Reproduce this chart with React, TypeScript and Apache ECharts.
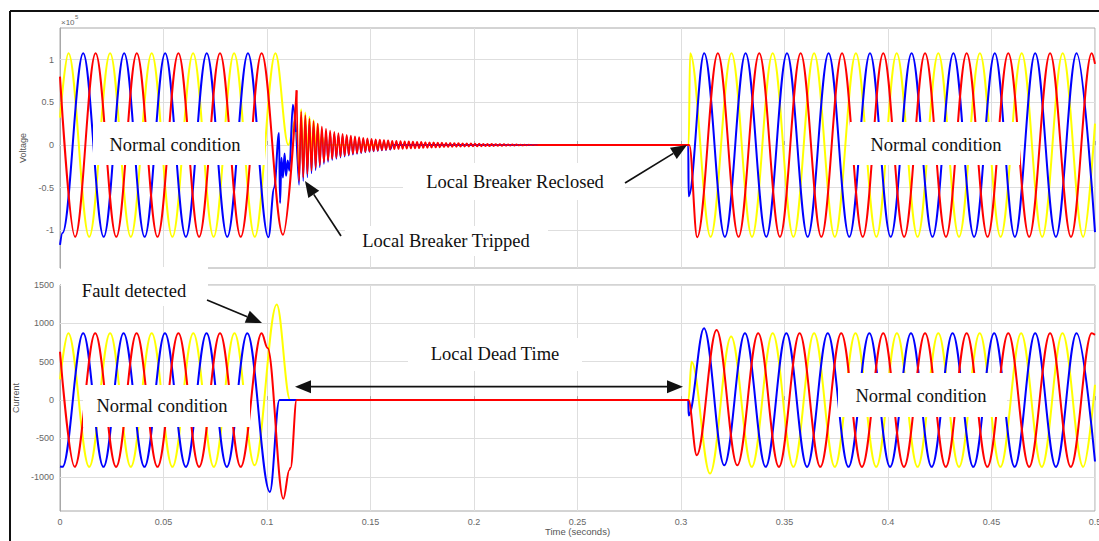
import React, { useEffect, useRef } from "react";
import * as echarts from "echarts";

type P = [number, number];

// Tick values
const voltTicks = [-1, -0.5, 0, 0.5, 1];
const currTicks = [-1000, -500, 0, 500, 1000, 1500];

// ---------- Voltage (x10^5) ----------
const voltYellow: P[] = [
  [0, 0.32], [0.0041, 1.075], [0.0141, -1.075], [0.0242, 1.075], [0.0342, -1.075], [0.0443, 1.075],
  [0.0543, -1.075], [0.0643, 1.075], [0.0742, -1.075], [0.0841, 1.075], [0.0941, -1.075], [0.1041, 1.075],
  [0.1103, 0], [0.1135, 0.28], [0.1155, -0.3], [0.1165, 0.42], [0.1175, -0.3], [0.1185, 0.38], [0.1195, -0.25],
  [0.1205, 0.33], [0.1215, -0.2], [0.1225, 0.29], [0.1235, -0.1], [0.1245, 0.25], [0.1255, -0.05],
  [0.1265, 0.1], [0.128, 0], [0.3037, 0],
  [0.3044, 1.075], [0.3143, -1.075], [0.3244, 1.075], [0.3343, -1.075], [0.3443, 1.075], [0.3543, -1.075],
  [0.3643, 1.075], [0.3743, -1.075], [0.3845, 1.075], [0.3944, -1.075], [0.4042, 1.075], [0.4143, -1.075],
  [0.4243, 1.075], [0.4343, -1.075], [0.4444, 1.075], [0.4544, -1.075], [0.4646, 1.075], [0.4745, -1.075],
  [0.4844, 1.075], [0.4943, -1.075], [0.5, 0.25],
];

const voltBluePre: P[] = [
  [0, -1.17], [0.0012, -1.03], [0.0112, 1.075], [0.0211, -1.075], [0.031, 1.075], [0.0409, -1.075],
  [0.0508, 1.075], [0.0608, -1.075], [0.0709, 1.075], [0.0808, -1.075], [0.0908, 1.075], [0.1007, -1.08],
  [0.1035, -0.5], [0.1058, 0.14], [0.1063, -0.68], [0.107, -0.15], [0.1077, -0.38], [0.1085, -0.1],
  [0.1092, -0.36], [0.11, -0.18], [0.1108, -0.3], [0.1125, 0.47], [0.114, 0.15],
];
const voltBlueRing: P[] = [
  [0.114, 0.15],
  [0.1155, -0.47], [0.1165, 0.33], [0.1175, -0.425], [0.1185, 0.3], [0.1195, -0.38], [0.1205, 0.265],
  [0.1215, -0.335], [0.1225, 0.24], [0.1235, -0.297], [0.1245, 0.21], [0.1255, -0.263], [0.1265, 0.183],
  [0.1275, -0.224], [0.1285, 0.16], [0.1295, -0.2], [0.1305, 0.145], [0.1315, -0.18], [0.1325, 0.13],
  [0.1335, -0.165], [0.1345, 0.12], [0.1355, -0.15], [0.1365, 0.11], [0.1375, -0.139], [0.1385, 0.1],
  [0.1395, -0.127], [0.1405, 0.094], [0.1415, -0.117], [0.1425, 0.085], [0.1435, -0.107], [0.1445, 0.078],
  [0.1455, -0.098], [0.1465, 0.072], [0.1475, -0.09], [0.1485, 0.066], [0.1495, -0.084], [0.1505, 0.061],
  [0.1515, -0.078], [0.1525, 0.057], [0.1535, -0.072], [0.1545, 0.053], [0.1555, -0.067], [0.1565, 0.049],
  [0.1575, -0.062], [0.1585, 0.046], [0.1595, -0.058], [0.1605, 0],
];
const voltBluePost: P[] = [
  [0.1605, 0], [0.3035, 0], [0.3037, -0.6], [0.3112, 1.075], [0.3212, -1.075], [0.3312, 1.075], [0.3412, -1.075],
  [0.3512, 1.075], [0.3612, -1.075], [0.3713, 1.075], [0.3813, -1.075], [0.3913, 1.075], [0.4013, -1.075],
  [0.4114, 1.075], [0.4215, -1.075], [0.4316, 1.075], [0.4416, -1.075], [0.4516, 1.075], [0.4613, -1.075],
  [0.4711, 1.075], [0.4811, -1.075], [0.4911, 1.075], [0.5, -1.02],
];

const voltRedPre: P[] = [
  [0, 0.8], [0.0073, -1.075], [0.0172, 1.075], [0.0272, -1.075], [0.0371, 1.075], [0.0471, -1.075],
  [0.0572, 1.075], [0.0672, -1.075], [0.0773, 1.075], [0.0873, -1.075], [0.0974, 1.075], [0.1077, -1.05],
  [0.1143, 0.64],
];
const voltRedRing: P[] = [
  [0.1143, 0.64],
  [0.1155, -0.42], [0.1165, 0.39], [0.1175, -0.38], [0.1185, 0.35], [0.1195, -0.34], [0.1205, 0.31],
  [0.1215, -0.3], [0.1225, 0.28], [0.1235, -0.265], [0.1245, 0.25], [0.1255, -0.235], [0.1265, 0.215],
  [0.1275, -0.2], [0.1285, 0.19], [0.1295, -0.18], [0.1305, 0.17], [0.1315, -0.162], [0.1325, 0.155],
  [0.1335, -0.148], [0.1345, 0.14], [0.1355, -0.135], [0.1365, 0.13], [0.1375, -0.124], [0.1385, 0.12],
  [0.1395, -0.114], [0.1405, 0.11], [0.1415, -0.105], [0.1425, 0.1], [0.1435, -0.096], [0.1445, 0.092],
  [0.1455, -0.088], [0.1465, 0.085], [0.1475, -0.081], [0.1485, 0.078], [0.1495, -0.075], [0.1505, 0.072],
  [0.1515, -0.07], [0.1525, 0.067], [0.1535, -0.065], [0.1545, 0.062], [0.1555, -0.06], [0.1565, 0.058],
  [0.1575, -0.056], [0.1585, 0.054], [0.1595, -0.052], [0.1605, 0.05], [0.1615, -0.049], [0.1625, 0.048],
  [0.1635, -0.047], [0.1645, 0.046], [0.1655, -0.045], [0.1665, 0.044], [0.1675, -0.043], [0.1685, 0.042],
  [0.1695, -0.041], [0.1705, 0.04], [0.1715, -0.039], [0.1725, 0.038], [0.1735, -0.037], [0.1745, 0.036],
  [0.1755, -0.035], [0.1765, 0.034], [0.1775, -0.033], [0.1785, 0.032], [0.1795, -0.031], [0.1805, 0.03],
  [0.1815, -0.029], [0.1825, 0.029], [0.1835, -0.028], [0.1845, 0.027], [0.1855, -0.026], [0.1865, 0.026],
  [0.1875, -0.025], [0.1885, 0.024], [0.1895, -0.023], [0.1905, 0.022], [0.1915, -0.021], [0.1925, 0.021],
  [0.1935, -0.02], [0.1945, 0.02], [0.1955, -0.019], [0.1965, 0.019], [0.1975, -0.018], [0.1985, 0.018],
  [0.1995, -0.017], [0.2005, 0.017], [0.2015, -0.016], [0.2025, 0.016], [0.2035, -0.015], [0.2045, 0.015],
  [0.2055, -0.014], [0.2065, 0.014], [0.2075, -0.013], [0.2085, 0.013], [0.2095, -0.012], [0.2105, 0.012],
  [0.2115, -0.011], [0.2125, 0.011], [0.2135, -0.01], [0.2145, 0.01], [0.2155, -0.009], [0.2165, 0.009],
  [0.2175, -0.008], [0.2185, 0.008], [0.2195, -0.007], [0.2205, 0.007], [0.2215, -0.006], [0.2225, 0.006],
  [0.2235, -0.005], [0.2245, 0.005], [0.2255, -0.004], [0.2265, 0.004], [0.2275, -0.003], [0.2285, 0.003],
  [0.2295, -0.002], [0.2305, 0],
];
const voltRedPost: P[] = [
  [0.2305, 0], [0.304, 0], [0.3078, -1.08], [0.3178, 1.075], [0.3278, -1.075], [0.3378, 1.075], [0.3478, -1.075],
  [0.3578, 1.075], [0.3678, -1.075], [0.3778, 1.075], [0.3878, -1.075], [0.3977, 1.075], [0.4078, -1.075],
  [0.4179, 1.075], [0.428, -1.075], [0.438, 1.075], [0.4481, -1.075], [0.4581, 1.075], [0.4682, -1.075],
  [0.4783, 1.075], [0.4884, -1.075], [0.4984, 1.075], [0.5, 0.95],
];

// ---------- Current (A) ----------
const currYellow: P[] = [
  [0, 270], [0.004, 870], [0.0141, -870], [0.0242, 870], [0.0342, -870], [0.0443, 870], [0.0543, -870],
  [0.0644, 870], [0.0743, -870], [0.0843, 870], [0.094, -850], [0.1047, 1245], [0.1112, 0], [0.3036, 0],
  [0.3051, 500], [0.314, -957], [0.3242, 830], [0.3342, -870], [0.3443, 870], [0.3543, -870], [0.3643, 870],
  [0.3743, -870], [0.3843, 870], [0.3943, -870], [0.4043, 870], [0.4143, -870], [0.4243, 870], [0.4343, -870],
  [0.4443, 870], [0.4543, -870], [0.4643, 870], [0.4743, -870], [0.4843, 870], [0.4943, -870], [0.5, 200],
];
const currBlue: P[] = [
  [0, -866], [0.0012, -870], [0.0112, 870], [0.021, -870], [0.0307, 870], [0.0408, -870], [0.0507, 870],
  [0.0608, -870], [0.0708, 870], [0.0806, -870], [0.0905, 870], [0.1014, -1197], [0.106, 0], [0.3035, 0],
  [0.3037, -200], [0.3111, 936], [0.3209, -850], [0.3309, 870], [0.3409, -870], [0.3509, 870], [0.3609, -870],
  [0.3709, 870], [0.3809, -870], [0.391, 870], [0.401, -870], [0.4111, 870], [0.4211, -870], [0.4312, 870],
  [0.4412, -870], [0.4513, 870], [0.4612, -870], [0.4711, 870], [0.4811, -870], [0.4911, 870], [0.5, -800],
];
const currRed: P[] = [
  [0, 630], [0.0071, -870], [0.017, 870], [0.0271, -870], [0.037, 870], [0.0471, -870], [0.0572, 870],
  [0.0672, -870], [0.0773, 870], [0.0873, -870], [0.0974, 870], [0.1003, 680], [0.1079, -1285],
  [0.1108, -910], [0.1114, -880], [0.1143, 0], [0.3036, 0], [0.3076, -718], [0.3172, 914], [0.3272, -850],
  [0.3373, 870], [0.3473, -870], [0.3573, 870], [0.3673, -870], [0.3774, 870], [0.3874, -870], [0.3977, 870],
  [0.4077, -870], [0.4179, 870], [0.4279, -870], [0.438, 870], [0.448, -870], [0.4581, 870], [0.4682, -870],
  [0.4783, 870], [0.4883, -870], [0.4984, 870], [0.5, 850],
];

const YEL = "#ffff00";
const BLU = "#0000ff";
const RED = "#ff0000";
const AXC = "#a8a8a8";
const GRC = "#dedede";
const LBL = "#666666";
const SANS = "Liberation Sans";
const SERIF = "Liberation Serif";

function wave(data: P[], color: string, gi: number, extra: any = {}, width = 2) {
  return {
    type: "line",
    data,
    xAxisIndex: gi,
    yAxisIndex: gi,
    showSymbol: false,
    symbol: "none",
    smooth: 0.36,
    smoothMonotone: "x",
    lineStyle: { color, width },
    itemStyle: { color },
    silent: true,
    animation: false,
    z: 2,
    ...extra,
  };
}

function gridLines(ticks: number[]) {
  return {
    silent: true,
    z: 1,
    animation: false,
    symbol: ["none", "none"],
    label: { show: false },
    emphasis: { disabled: true },
    lineStyle: { color: GRC, width: 1, type: "solid" },
    data: ticks.map((v) => ({ yAxis: v })),
  };
}

function xAxisCfg(gi: number, labels: boolean) {
  return {
    gridIndex: gi,
    type: "value",
    min: 0,
    max: 0.5,
    interval: 0.05,
    axisLine: { show: true, lineStyle: { color: AXC } },
    axisTick: { show: true, inside: true, length: 4, lineStyle: { color: AXC } },
    axisLabel: {
      show: labels,
      color: LBL,
      fontSize: 9,
      fontFamily: SANS,
      margin: 6,
      hideOverlap: false,
      formatter: (v: number) => String(Math.round(v * 100) / 100),
    },
    splitLine: { show: true, lineStyle: { color: GRC, width: 1 } },
    ...(labels
      ? {
          name: "Time (seconds)",
          nameLocation: "middle",
          nameGap: 15,
          nameTextStyle: { color: "#555", fontSize: 9.5, fontFamily: SANS },
        }
      : {}),
  };
}

function yAxisCfg(gi: number, min: number, max: number, ticks: number[], name: string) {
  return {
    gridIndex: gi,
    type: "value",
    min,
    max,
    axisLine: { show: true, lineStyle: { color: AXC } },
    axisTick: { show: true, inside: true, length: 4, lineStyle: { color: AXC }, customValues: ticks },
    axisLabel: {
      customValues: ticks,
      color: LBL,
      fontSize: 9,
      fontFamily: SANS,
      margin: 6,
      formatter: (v: number) => String(v),
    },
    splitLine: { show: false },
    name,
    nameLocation: "middle",
    nameGap: 29,
    nameTextStyle: { color: "#555", fontSize: 9, fontFamily: SANS },
  };
}

function box(x: number, y: number, w: number, h: number) {
  return { type: "rect", shape: { x, y, width: w, height: h }, style: { fill: "#fff" }, z: 100, silent: true };
}
function label(text: string, x: number, y: number) {
  return {
    type: "text",
    x,
    y,
    z: 101,
    silent: true,
    style: { text, fontSize: 18.5, fontFamily: SERIF, fill: "#111", align: "center", verticalAlign: "middle" },
  };
}
function seg(x1: number, y1: number, x2: number, y2: number, w = 1.7) {
  return { type: "line", shape: { x1, y1, x2, y2 }, style: { stroke: "#111", lineWidth: w }, z: 102, silent: true };
}
function head(tipX: number, tipY: number, tailX: number, tailY: number, len = 16, half = 6.5) {
  const dx = tailX - tipX;
  const dy = tailY - tipY;
  const d = Math.hypot(dx, dy);
  const ux = dx / d;
  const uy = dy / d;
  const bx = tipX + ux * len;
  const by = tipY + uy * len;
  const px = -uy * half;
  const py = ux * half;
  return [
    seg(bx, by, tailX, tailY),
    {
      type: "polygon",
      shape: { points: [[tipX, tipY], [bx + px, by + py], [bx - px, by - py]] },
      style: { fill: "#111" },
      z: 103,
      silent: true,
    },
  ];
}

export default function App() {
  const ref = useRef<HTMLDivElement>(null);
  useEffect(() => {
    const chart = echarts.init(ref.current!, null, { renderer: "svg" });
    const gridBase = {
      left: 60,
      width: 1035,
      show: true,
      borderColor: AXC,
      borderWidth: 1,
      backgroundColor: "#fff",
      containLabel: false,
      outerBoundsMode: "none",
    };
    const option: any = {
      animation: false,
      backgroundColor: "#fff",
      grid: [
        { ...gridBase, top: 28, height: 240 },
        { ...gridBase, top: 285, height: 226 },
      ],
      xAxis: [xAxisCfg(0, false), xAxisCfg(1, true)],
      yAxis: [
        yAxisCfg(0, -1.44, 1.37, voltTicks, "Voltage"),
        yAxisCfg(1, -1445, 1500, currTicks, "Current"),
      ],
      series: [
        wave(voltYellow, YEL, 0, { markLine: gridLines(voltTicks) }),
        wave(voltBluePre, BLU, 0),
        wave(voltBlueRing, BLU, 0, {}, 1.2),
        wave(voltBluePost, BLU, 0),
        wave(voltRedPre, RED, 0),
        wave(voltRedRing, RED, 0, {}, 1.7),
        wave(voltRedPost, RED, 0),
        wave(currYellow, YEL, 1, { markLine: gridLines(currTicks) }),
        wave(currBlue, BLU, 1),
        wave(currRed, RED, 1),
      ],
      graphic: [
        seg(10, 11, 1099, 11, 2),
        seg(10, 11, 10, 541, 2),
        { type: "text", x: 61, y: 22, z: 101, silent: true, style: { text: "×10", fontSize: 8, fontFamily: SANS, fill: LBL, verticalAlign: "middle" } },
        { type: "text", x: 75, y: 17, z: 101, silent: true, style: { text: "5", fontSize: 6, fontFamily: SANS, fill: LBL, verticalAlign: "middle" } },
        box(93, 122, 172, 43),
        box(850, 122, 170, 43),
        box(83, 385, 167, 42),
        box(838, 373, 169, 44),
        box(403, 163, 222, 37),
        box(345, 226, 203, 30),
        box(61, 267, 147, 39),
        box(408, 338, 174, 33),
        label("Normal condition", 175, 145),
        label("Normal condition", 936, 145),
        label("Normal condition", 162, 406),
        label("Normal condition", 921, 396),
        label("Local Breaker Reclosed", 515, 182),
        label("Local Breaker Tripped", 446, 241),
        label("Fault detected", 134, 291),
        label("Local Dead Time", 495, 354),
        ...head(305, 181, 341, 236),
        ...head(687, 145, 625, 183),
        ...head(262, 323, 207, 300),
        seg(311, 386.7, 667, 386.7),
        { type: "polygon", shape: { points: [[295, 386.7], [311, 380.2], [311, 393.2]] }, style: { fill: "#111" }, z: 103, silent: true },
        { type: "polygon", shape: { points: [[683, 386.7], [667, 380.2], [667, 393.2]] }, style: { fill: "#111" }, z: 103, silent: true },
      ],
    };
    chart.setOption(option);
    return () => chart.dispose();
  }, []);
  return (
    <div
      ref={ref}
      style={{ position: "fixed", left: 0, top: 0, width: 1099, height: 541, background: "#fff" }}
    />
  );
}
